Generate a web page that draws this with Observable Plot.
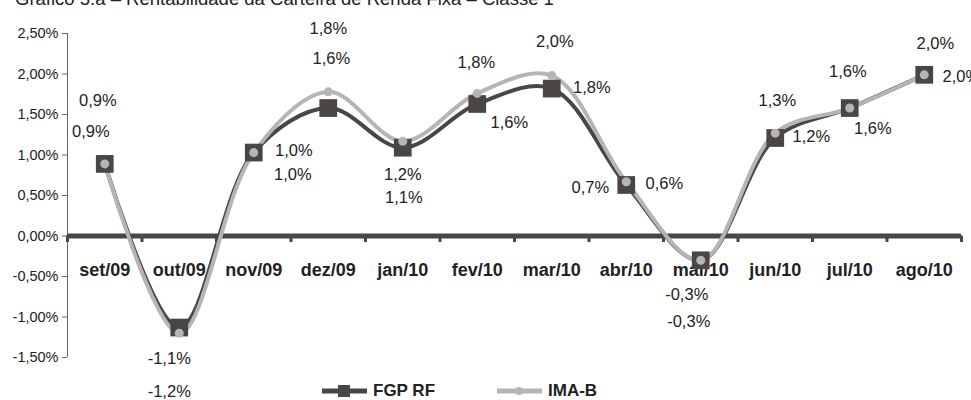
<!DOCTYPE html>
<html><head><meta charset="utf-8">
<script src="https://cdn.jsdelivr.net/npm/d3@7"></script>
<script src="https://cdn.jsdelivr.net/npm/@observablehq/plot@0.6"></script>
<style>
body{margin:0;background:#fff;overflow:hidden;font-family:"Liberation Sans",Arial,sans-serif;width:971px;height:400px;position:relative}
#title{position:absolute;left:15px;top:-12px;font-size:18.5px;color:#222;white-space:nowrap}
#chart{position:absolute;left:0;top:0}
#legend{position:absolute;top:382px;left:0;width:971px;height:18px;font-weight:bold;font-size:17px;line-height:17px;color:#222}
#legend .item{position:absolute;top:0;display:flex;align-items:center;gap:6px;height:17px}
</style></head>
<body>
<div id="chart"></div>
<div id="title">Gráfico 5.a – Rentabilidade da Carteira de Renda Fixa – Classe 1</div>
<div id="legend"></div>
<script>
const categories = ["set/09","out/09","nov/09","dez/09","jan/10","fev/10","mar/10","abr/10","mai/10","jun/10","jul/10","ago/10"];
const fgpRF = [0.89,-1.13,1.03,1.58,1.09,1.63,1.82,0.63,-0.30,1.21,1.58,1.99];
const imaB  = [0.89,-1.20,1.03,1.78,1.17,1.76,1.98,0.67,-0.30,1.27,1.58,1.99];
const yTicks = [-1.5,-1,-0.5,0,0.5,1,1.5,2,2.5];
const seriesNames = ["FGP RF","IMA-B"];
// label placement (pixel offsets from each point), kept apart from the values
const fgpLabelOffsets = [[-14,-32],[-10,31],[39,22],[3,-49],[1,50],[32,19],[40,-1],[38,-1],[-12,61],[36,-1],[23,21],[37,2]];
const imaLabelOffsets = [[-7,-63],[-10,59],[40,-2],[0,-63],[0,33],[-1,-31],[3,-34],[-36,6],[-14,34],[2,-32],[-2,-36],[11,-31]];

const dark = "#4a4643", light = "#b5b5b5";
const rows = categories.map((c,i)=>({i, c, fgp: fgpRF[i], ima: imaB[i]}));
const fmt = v => v.toFixed(1).replace(".", ",") + "%";
const bounds = d3.range(categories.length + 1).map(i => i - 0.5);

const labelMarks = [];
rows.forEach((r,k) => {
  labelMarks.push(Plot.text([r], {x:"i", y:"ima", text: d=>fmt(d.ima), dx: imaLabelOffsets[k][0], dy: imaLabelOffsets[k][1], fontSize:16.5, fill:"#222"}));
  labelMarks.push(Plot.text([r], {x:"i", y:"fgp", text: d=>fmt(d.fgp), dx: fgpLabelOffsets[k][0], dy: fgpLabelOffsets[k][1], fontSize:16.5, fill:"#222"}));
});

const chart = Plot.plot({
  width: 971, height: 380,
  marginLeft: 67, marginRight: 10, marginTop: 33, marginBottom: 23,
  style: {fontFamily: '"Liberation Sans", Arial, sans-serif', background: "#fff", overflow: "visible"},
  x: {domain: [-0.5, categories.length - 0.5], axis: null},
  y: {domain: [-1.5, 2.5], axis: null},
  marks: [
    Plot.ruleX([-0.5], {y1: -1.5, y2: 2.5, stroke: "#666", strokeWidth: 1}),
    Plot.axisY(yTicks, {anchor: "left", tickSize: 5, tickPadding: 4, stroke: "#666", fontSize: 14.5, fill: "#222",
      tickFormat: d => d.toFixed(2).replace(".", ",") + "%"}),
    Plot.ruleX(bounds, {x: d => d, y1: 0, y2: -0.08, stroke: dark, strokeWidth: 3}),
    Plot.ruleY([0], {stroke: dark, strokeWidth: 5}),
    Plot.text(categories, {x: (d,i) => i, y: 0, dy: 34, text: d => d, fontSize: 18, fontWeight: "bold", fill: "#222"}),
    Plot.line(rows, {x: "i", y: "fgp", curve: "catmull-rom", stroke: dark, strokeWidth: 4}),
    Plot.line(rows, {x: "i", y: "ima", curve: "catmull-rom", stroke: light, strokeWidth: 4}),
    Plot.dot(rows, {x: "i", y: "fgp", symbol: "square", r: 10, fill: dark, stroke: "none"}),
    Plot.dot(rows, {x: "i", y: "ima", symbol: "circle", r: 4.5, fill: light, stroke: "none"}),
    ...labelMarks
  ]
});
document.getElementById("chart").appendChild(chart);

const legend = document.getElementById("legend");
legend.innerHTML =
  `<div class="item" style="left:322px"><svg width="45" height="14"><line x1="0" y1="7" x2="45" y2="7" stroke="${dark}" stroke-width="5"/><rect x="16" y="1" width="12" height="12" fill="${dark}"/></svg><span>${seriesNames[0]}</span></div>` +
  `<div class="item" style="left:497px"><svg width="45" height="14"><line x1="0" y1="7" x2="45" y2="7" stroke="${light}" stroke-width="5"/><circle cx="22" cy="7" r="4" fill="${light}"/></svg><span>${seriesNames[1]}</span></div>`;
</script>
</body></html>
